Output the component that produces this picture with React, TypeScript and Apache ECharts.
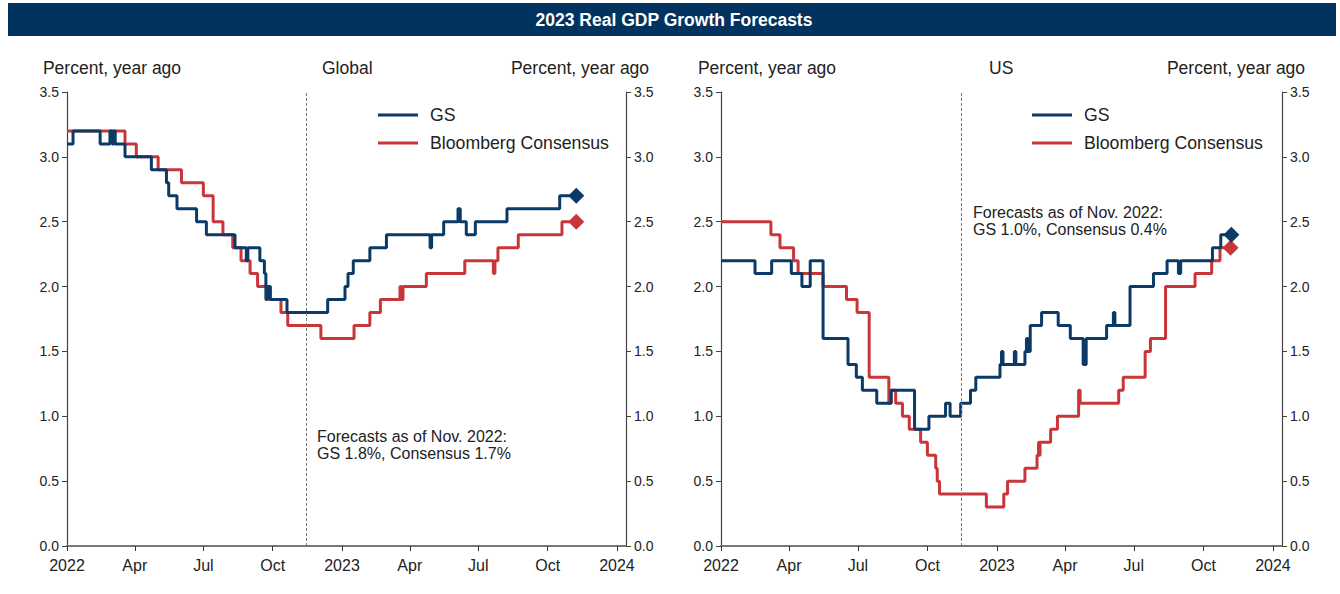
import React, { useEffect, useRef } from "react";
import * as echarts from "echarts";

// ---------- data (step changes: date of change, new value) ----------
const globalGsDates = [
  "2022-01-01", "2022-01-09", "2022-02-14", "2022-02-27", "2022-03-02", "2022-03-04", "2022-03-06",
  "2022-03-19", "2022-04-23", "2022-05-13", "2022-05-16", "2022-05-27", "2022-06-22", "2022-07-05",
  "2022-08-12", "2022-08-27", "2022-08-29", "2022-09-14", "2022-09-20", "2022-09-22", "2022-09-24",
  "2022-09-28", "2022-10-20", "2022-12-13", "2023-01-05", "2023-01-09", "2023-01-16", "2023-02-07",
  "2023-03-01", "2023-04-28", "2023-04-30", "2023-05-16", "2023-06-04", "2023-06-07", "2023-06-15",
  "2023-06-27", "2023-08-08", "2023-10-17", "2023-11-03",
];
const globalGsValues = [
  3.1, 3.2, 3.1, 3.2, 3.1, 3.2, 3.1,
  3.0, 2.9, 2.8, 2.7, 2.6, 2.5, 2.4,
  2.3, 2.2, 2.3, 2.2, 2.1, 1.9, 2.0,
  1.9, 1.8, 1.9, 2.0, 2.1, 2.2, 2.3,
  2.4, 2.3, 2.4, 2.5, 2.6, 2.5, 2.4,
  2.5, 2.6, 2.7, 2.7,
];
const globalBbDates = [
  "2022-01-01", "2022-03-19", "2022-04-03", "2022-05-02", "2022-06-02", "2022-07-01", "2022-07-14",
  "2022-07-27", "2022-08-09", "2022-08-20", "2022-09-01", "2022-09-11", "2022-09-26", "2022-10-12",
  "2022-10-21", "2022-12-04", "2023-01-17", "2023-02-07", "2023-02-21", "2023-03-19", "2023-03-21",
  "2023-03-23", "2023-04-23", "2023-06-13", "2023-07-21", "2023-07-23", "2023-07-27", "2023-08-23",
  "2023-10-20", "2023-11-03",
];
const globalBbValues = [
  3.2, 3.1, 3.0, 2.9, 2.8, 2.7, 2.5,
  2.4, 2.3, 2.2, 2.1, 2.0, 1.9, 1.8,
  1.7, 1.6, 1.7, 1.8, 1.9, 2.0, 1.9,
  2.0, 2.1, 2.2, 2.1, 2.2, 2.3, 2.4,
  2.5, 2.5,
];
const usGsDates = [
  "2022-01-01", "2022-02-15", "2022-03-09", "2022-04-04", "2022-04-18", "2022-04-29", "2022-05-16",
  "2022-06-18", "2022-06-29", "2022-07-07", "2022-07-26", "2022-08-14", "2022-09-14", "2022-10-03",
  "2022-10-25", "2022-10-31", "2022-11-14", "2022-11-27", "2022-12-04", "2023-01-05", "2023-01-07",
  "2023-01-09", "2023-01-24", "2023-01-26", "2023-02-07", "2023-02-09", "2023-02-11", "2023-02-14",
  "2023-03-01", "2023-03-23", "2023-04-08", "2023-04-25", "2023-04-29", "2023-05-26", "2023-06-04",
  "2023-06-06", "2023-06-26", "2023-07-27", "2023-08-14", "2023-08-29", "2023-09-01", "2023-10-13",
  "2023-10-24", "2023-11-03",
];
const usGsValues = [
  2.2, 2.1, 2.2, 2.1, 2.0, 2.2, 1.6,
  1.4, 1.3, 1.2, 1.1, 1.2, 0.9, 1.0,
  1.1, 1.0, 1.1, 1.2, 1.3, 1.4, 1.5,
  1.4, 1.5, 1.4, 1.5, 1.6, 1.5, 1.7,
  1.8, 1.7, 1.6, 1.4, 1.6, 1.7, 1.8,
  1.7, 2.0, 2.1, 2.2, 2.1, 2.2, 2.3,
  2.4, 2.4,
];
const usBbDates = [
  "2022-01-01", "2022-03-08", "2022-03-20", "2022-04-07", "2022-04-13", "2022-05-16", "2022-06-16",
  "2022-06-30", "2022-07-16", "2022-08-11", "2022-08-14", "2022-08-20", "2022-08-29", "2022-09-07",
  "2022-09-22", "2022-10-01", "2022-10-12", "2022-10-14", "2022-10-17", "2022-12-18", "2023-01-10",
  "2023-01-15", "2023-02-07", "2023-02-23", "2023-02-25", "2023-02-26", "2023-02-27", "2023-03-13",
  "2023-03-22", "2023-04-19", "2023-04-21", "2023-06-11", "2023-06-17", "2023-07-16", "2023-07-23",
  "2023-08-12", "2023-09-20", "2023-10-12", "2023-10-23", "2023-11-03",
];
const usBbValues = [
  2.5, 2.4, 2.3, 2.2, 2.1, 2.0, 1.9,
  1.8, 1.3, 1.1, 1.2, 1.1, 1.0, 0.9,
  0.8, 0.7, 0.6, 0.5, 0.4, 0.3, 0.4,
  0.5, 0.6, 0.7, 0.8, 0.7, 0.8, 0.9,
  1.0, 1.2, 1.1, 1.2, 1.3, 1.5, 1.6,
  2.0, 2.1, 2.2, 2.3, 2.3,
];
// latest forecast markers (diamonds)
const globalGsLatest: [string, number] = ["2023-11-08", 2.7];
const globalBbLatest: [string, number] = ["2023-11-08", 2.5];
const usGsLatest: [string, number] = ["2023-11-07", 2.4];
const usBbLatest: [string, number] = ["2023-11-06", 2.3];

const cutoffDate = "2022-11-15";
const panelTitles = ["Global", "US"];
const notes = [
  ["Forecasts as of Nov. 2022:", "GS 1.8%, Consensus 1.7%"],
  ["Forecasts as of Nov. 2022:", "GS 1.0%, Consensus 0.4%"],
];
const seriesNames = ["GS", "Bloomberg Consensus"];
const monthNames = ["Jan", "Feb", "Mar", "Apr", "May", "Jun", "Jul", "Aug", "Sep", "Oct", "Nov", "Dec"];

const NAVY = "#0b3a66";
const RED = "#c9363a";
const FONT = '"Liberation Sans", Arial, sans-serif';

const ts = (s: string) => {
  const [y, m, d] = s.split("-").map(Number);
  return new Date(y, m - 1, d).getTime();
};
const zip = (d: string[], v: number[]) => d.map((x, i) => [ts(x), v[i]]);

export default function App() {
  const ref = useRef<HTMLDivElement>(null);
  useEffect(() => {
    if (!ref.current) return;
    const chart = echarts.init(ref.current, null, { renderer: "svg" });
    const ticks: number[] = [];
    for (let y = 2022; y <= 2024; y++) {
      for (let m = 0; m < 12; m += 3) {
        if (y === 2024 && m > 0) break;
        ticks.push(new Date(y, m, 1).getTime());
      }
    }
    const xMin = ts("2022-01-01");
    const xMax = ts("2024-01-13");
    const grids = [
      { left: 67, top: 92, width: 559, height: 454 },
      { left: 721, top: 92, width: 561, height: 454 },
    ];
    const xAxes = grids.map((_, i) => ({
      type: "value",
      gridIndex: i,
      min: xMin,
      max: xMax,
      axisLine: { show: true, lineStyle: { color: "#777", width: 2 } },
      axisTick: { show: true, customValues: ticks, length: 5, lineStyle: { color: "#333", width: 1 } },
      axisLabel: {
        customValues: ticks,
        fontFamily: FONT,
        fontSize: 16,
        color: "#222",
        margin: 11,
        showMinLabel: true,
        showMaxLabel: true,
        formatter: (val: number) => {
          const d = new Date(val);
          const m = d.getMonth();
          return m === 0 ? String(d.getFullYear()) : monthNames[m];
        },
      },
      splitLine: { show: false },
    }));
    const yAxes: any[] = [];
    grids.forEach((_, i) => {
      ["left", "right"].forEach((pos) => {
        yAxes.push({
          type: "value",
          gridIndex: i,
          position: pos,
          min: 0,
          max: 3.5,
          interval: 0.5,
          axisLine: { show: true, lineStyle: { color: "#444", width: 1.2 } },
          axisTick: { show: true, length: 5, lineStyle: { color: "#444" } },
          axisLabel: {
            fontFamily: FONT,
            fontSize: 14,
            color: "#222",
            margin: 8,
            formatter: (v: number) => v.toFixed(1),
          },
          splitLine: { show: false },
        });
      });
    });
    const lineSeries = (name: string, color: string, data: any[], gi: number, mark: boolean) => ({
      name,
      type: "line",
      step: "end",
      xAxisIndex: gi,
      yAxisIndex: gi * 2,
      data,
      symbol: "none",
      lineStyle: { color, width: 3 },
      itemStyle: { color },
      z: name === "GS" ? 3 : 2,
      markLine: mark
        ? {
            silent: true,
            symbol: "none",
            label: { show: false },
            lineStyle: { color: "#777", type: [3, 2], width: 1 },
            data: [{ xAxis: ts(cutoffDate) }],
          }
        : undefined,
    });
    const diamond = (color: string, pt: [string, number], gi: number) => ({
      type: "scatter",
      xAxisIndex: gi,
      yAxisIndex: gi * 2,
      symbol: "diamond",
      symbolSize: 16,
      itemStyle: { color, opacity: 1 },
      data: [[ts(pt[0]), pt[1]]],
      z: 4,
    });
    const series = [
      lineSeries("Bloomberg Consensus", RED, zip(globalBbDates, globalBbValues), 0, false),
      lineSeries("GS", NAVY, zip(globalGsDates, globalGsValues), 0, true),
      lineSeries("Bloomberg Consensus", RED, zip(usBbDates, usBbValues), 1, false),
      lineSeries("GS", NAVY, zip(usGsDates, usGsValues), 1, true),
      diamond(RED, globalBbLatest, 0),
      diamond(NAVY, globalGsLatest, 0),
      diamond(RED, usBbLatest, 1),
      diamond(NAVY, usGsLatest, 1),
    ];
    const legendBase = (left: number) => ({
      left,
      top: 106,
      orient: "vertical",
      padding: 0,
      itemGap: 10,
      itemWidth: 40,
      itemHeight: 3,
      icon: "rect",
      data: seriesNames,
      selectedMode: false,
      textStyle: { fontFamily: FONT, fontSize: 17.7, color: "#222", padding: [0, 0, 0, 7] },
    });
    const txt = (text: string, x: number, y: number, size: number, align = "left", extra: any = {}) => ({
      type: "text",
      x,
      y,
      style: {
        text,
        fill: "#222",
        font: `${size}px ${FONT}`,
        align,
        verticalAlign: "middle",
        ...extra,
      },
    });
    const graphic: any[] = [
      { type: "rect", shape: { x: 8, y: 3, width: 1328, height: 33 }, style: { fill: "#01335e" } },
      txt("2023 Real GDP Growth Forecasts", 674, 20, 17.5, "center", { fill: "#ffffff", font: `bold 17.5px ${FONT}` }),
      txt("Percent, year ago", 112, 68, 17.5, "center"),
      txt(panelTitles[0], 322, 68, 17.5, "left"),
      txt("Percent, year ago", 580, 68, 17.5, "center"),
      txt("Percent, year ago", 767, 68, 17.5, "center"),
      txt(panelTitles[1], 989, 68, 17.5, "left"),
      txt("Percent, year ago", 1236, 68, 17.5, "center"),
      txt(notes[0][0], 317, 436, 16),
      txt(notes[0][1], 317, 453, 16),
      txt(notes[1][0], 973, 212, 16),
      txt(notes[1][1], 973, 229, 16),
    ];
    chart.setOption({
      animation: false,
      backgroundColor: "#ffffff",
      textStyle: { fontFamily: FONT },
      grid: grids,
      xAxis: xAxes,
      yAxis: yAxes,
      legend: [legendBase(378), legendBase(1032)],
      series,
      graphic,
    });
    return () => chart.dispose();
  }, []);
  return <div ref={ref} style={{ position: "absolute", left: 0, top: 0, width: 1340, height: 594 }} />;
}
